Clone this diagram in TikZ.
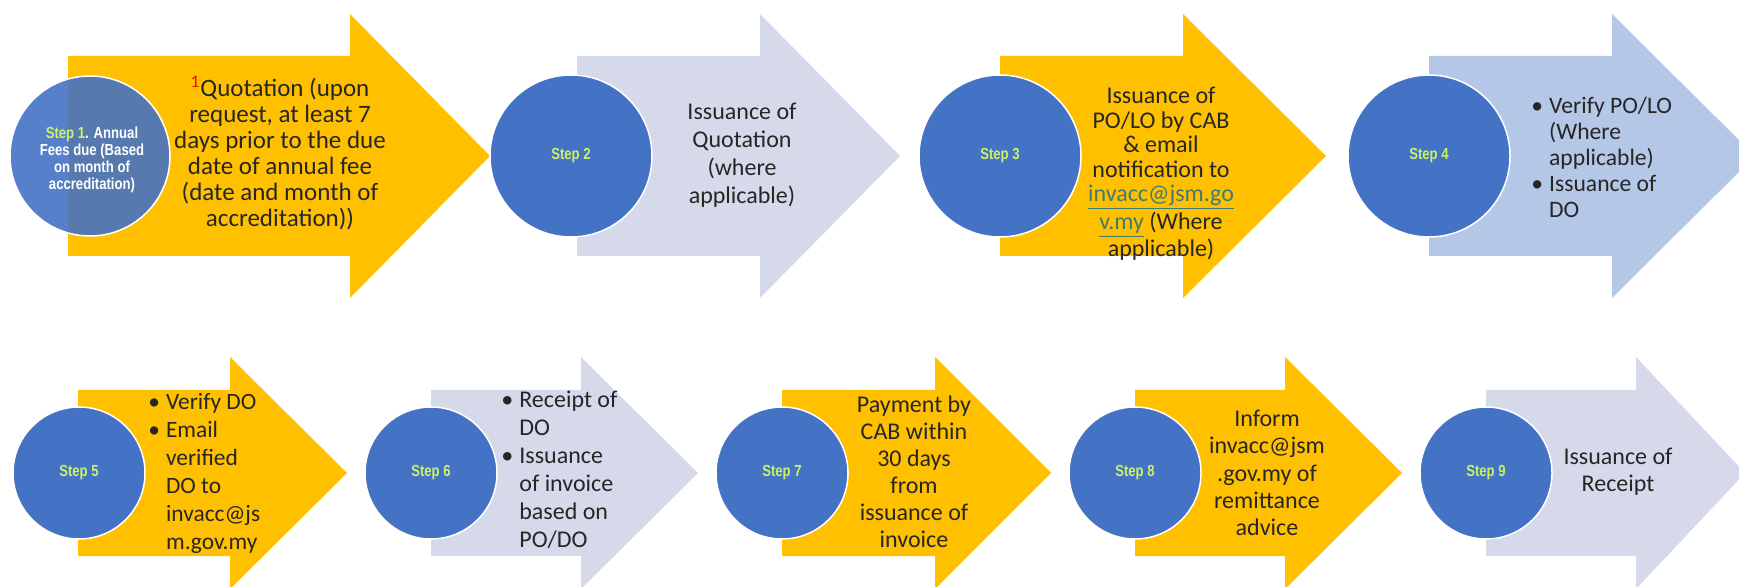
\documentclass[tikz,border=0pt]{standalone}
\usepackage{fontspec}
\setmainfont{Carlito}
\newfontfamily\stepfont[FakeStretch=0.82]{Liberation Sans}
\definecolor{amber}{HTML}{FFC000}
\definecolor{lavender}{HTML}{D5D9EA}
\definecolor{steelpale}{HTML}{B4C7E7}
\definecolor{stepblue}{HTML}{4472C4}
\definecolor{stepgreen}{HTML}{CCF26B}
\definecolor{ink}{HTML}{262626}
\definecolor{linkcol}{HTML}{3E7C72}

\begin{document}
\begin{tikzpicture}[x=0.5pt,y=0.5pt,
		every node/.style={inner sep=0pt},
		stepcircle/.style={circle,fill=stepblue,draw=white,line width=0.75pt,minimum size=81pt},
		smallcircle/.style={stepcircle,minimum size=66pt},
		steplabel/.style={font=\stepfont\bfseries\fontsize{8}{8.5}\selectfont,text=stepgreen},
		textsize/.style 2 args={font=\fontsize{#1}{#2}\selectfont},
		boxtext/.style={align=center,text=ink}]
				\useasboundingbox (0,0) rectangle (1739,-587);
				\clip (0,0) rectangle (1739,-587);
				% top row
				\fill [amber] (68,-56) -- (350,-56) -- (350,-14) -- (490,-156) -- (350,-298) -- (350,-256) -- (68,-256) -- cycle;
				\fill [lavender] (577,-56) -- (760,-56) -- (760,-14) -- (900,-156) -- (760,-298) -- (760,-256) -- (577,-256) -- cycle;
				\fill [amber] (1000,-56) -- (1183,-56) -- (1183,-14) -- (1326,-156) -- (1183,-298) -- (1183,-256) -- (1000,-256) -- cycle;
				\fill [steelpale] (1429,-56) -- (1612,-56) -- (1612,-14) -- (1755,-156) -- (1612,-298) -- (1612,-256) -- (1429,-256) -- cycle;
				\node [stepcircle,minimum size=80pt,fill opacity=0.9] (s1) at (90,-156) {};
				\node [stepcircle] (s2) at (571,-156) {};
				\node [stepcircle] (s3) at (1000,-156) {};
				\node [stepcircle] (s4) at (1429,-156) {};
				\node [steplabel,text=white,align=center] (l1) at (92,-160) {{\color{stepgreen}Step 1}. Annual\\Fees due (Based\\on month of\\accreditation)};
				\node [steplabel] (l2) at (s2) {Step 2};
				\node [steplabel] (l3) at (s3) {Step 3};
				\node [steplabel] (l4) at (s4) {Step 4};
				\node [boxtext,textsize={12.5}{13}] (t1) at (280,-153) {\textsuperscript{\color{red}1}Quotation (upon\\request, at least 7\\days prior to the due\\date of annual fee\\(date and month of\\accreditation))};
				\node [boxtext,textsize={12}{14}] (t2) at (742,-155) {Issuance of\\Quotation\\(where\\applicable)};
				\node [boxtext,textsize={12}{12.25}] (t3) at (1161,-174) {Issuance of\\PO/LO by CAB\\\& email\\notification to\\{\color{linkcol}\underline{invacc@jsm.go}}\\{\color{linkcol}\underline{v.my}} (Where\\applicable)};
				\node [boxtext,textsize={11.8}{13},anchor=west] (t4) at (1531,-160) {\begin{tabular}{@{}c@{\hspace{3pt}}l@{}}\textbullet & Verify PO/LO\\ & (Where\\ & applicable)\\\textbullet & Issuance of\\ & DO\end{tabular}};
				% bottom row
				\fill [amber] (78,-390) -- (230,-390) -- (230,-357) -- (347,-473) -- (230,-589) -- (230,-556) -- (78,-556) -- cycle;
				\fill [lavender] (431,-390) -- (581,-390) -- (581,-357) -- (698,-473) -- (581,-589) -- (581,-556) -- (431,-556) -- cycle;
				\fill [amber] (782,-390) -- (935,-390) -- (935,-357) -- (1051,-473) -- (935,-589) -- (935,-556) -- (782,-556) -- cycle;
				\fill [amber] (1135,-390) -- (1285,-390) -- (1285,-357) -- (1402,-473) -- (1285,-589) -- (1285,-556) -- (1135,-556) -- cycle;
				\fill [lavender] (1486,-390) -- (1636,-390) -- (1636,-357) -- (1745,-473) -- (1636,-589) -- (1636,-556) -- (1486,-556) -- cycle;
				\node [smallcircle] (s5) at (79,-473) {};
				\node [smallcircle] (s6) at (431,-473) {};
				\node [smallcircle] (s7) at (782,-473) {};
				\node [smallcircle] (s8) at (1135,-473) {};
				\node [smallcircle] (s9) at (1486,-473) {};
				\node [steplabel] (l5) at (s5) {Step 5};
				\node [steplabel] (l6) at (s6) {Step 6};
				\node [steplabel] (l7) at (s7) {Step 7};
				\node [steplabel] (l8) at (s8) {Step 8};
				\node [steplabel] (l9) at (s9) {Step 9};
				\node [boxtext,textsize={11.7}{14},anchor=west] (t5) at (148,-474) {\begin{tabular}{@{}c@{\hspace{3pt}}l@{}}\textbullet & Verify DO\\\textbullet & Email\\ & verified\\ & DO to\\ & invacc@js\\ & m.gov.my\end{tabular}};
				\node [boxtext,textsize={12}{14},anchor=west] (t6) at (501,-472) {\begin{tabular}{@{}c@{\hspace{3pt}}l@{}}\textbullet & Receipt of\\ & DO\\\textbullet & Issuance\\ & of invoice\\ & based on\\ & PO/DO\end{tabular}};
				\node [boxtext,textsize={12}{13.5}] (t7) at (914,-472) {Payment by\\CAB within\\30 days\\from\\issuance of\\invoice};
				\node [boxtext,textsize={12}{13.7}] (t8) at (1267,-473) {Inform\\invacc@jsm\\.gov.my of\\remittance\\advice};
				\node [boxtext,textsize={12}{13.5}] (t9) at (1618,-472) {Issuance of\\Receipt};
			\end{tikzpicture}
\end{document}
